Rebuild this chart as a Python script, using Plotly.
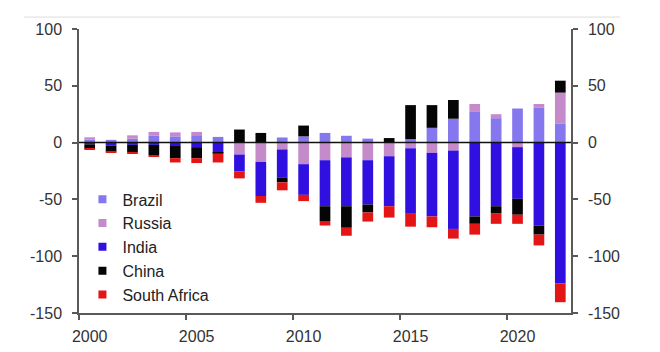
import plotly.graph_objects as go

years = list(range(2000, 2023))
brazil = [2.5, 2.4, 3.5, 6, 5.5, 6.5, 5, 0, 0, 4.5, 5.5, 8.5, 6, 3.5, 0, 3, 13, 21, 27, 21.5, 30, 31, 16.5]
russia = [2.2, 0, 2.9, 3.4, 3.5, 2.9, 0, -10.5, -17, -6, -19, -15.5, -13, -15.5, -12, -5, -9, -7, 7, 3.5, -4, 3, 27.5]
india = [-1.5, -2.5, -2, -2, -3, -4, -9, -15, -30, -25, -27, -40.5, -43, -39, -44, -57, -56, -69, -65, -56, -45.5, -73, -124]
china = [-4, -5.5, -6.5, -9, -10.7, -9.7, -0.5, 11.5, 8.5, -4, 9.5, -13, -19, -7, 4, 30, 20, 16.5, -6.5, -6.5, -14, -8, 10.5]
south_africa = [-0.3, -0.4, -0.8, -1, -3.8, -4.3, -8, -6, -6, -7, -5.5, -4, -7, -8, -10, -12, -9.5, -8.5, -9.5, -9, -8, -9.5, -16.5]

names = ["Brazil", "Russia", "India", "China", "South Africa"]
colors = ["#8577ee", "#c58ac9", "#3010e0", "#050505", "#e31515"]
values = [brazil, russia, india, china, south_africa]

y_ticks = [-150, -100, -50, 0, 50, 100]
y_ticktext = ["-150", "-100", "-50", "0", "50", "100"]
x_ticks = [2000, 2005, 2010, 2015, 2020]
x_minor = [1999.5, 2004.5, 2009.5, 2014.5, 2019.5]

FONT = "Liberation Sans, Arial, sans-serif"
AX = "#595959"

fig = go.Figure()
for n, v, c in zip(names, values, colors):
    fig.add_trace(go.Bar(x=years, y=v, name=n, marker=dict(color=c, line=dict(width=0)),
                         width=0.5, showlegend=False))
for n, c in zip(names, colors):
    fig.add_trace(go.Scatter(x=[None], y=[None], mode="markers", name=n,
                             marker=dict(symbol="square", size=8, color=c)))
fig.add_trace(go.Scatter(x=[None], y=[None], yaxis="y2", showlegend=False, hoverinfo="skip"))

axis_common = dict(range=[-150, 100], tickvals=y_ticks, ticktext=y_ticktext, ticks="outside", ticklen=5,
                   tickwidth=1.5, tickcolor=AX, showline=True, linecolor=AX, linewidth=1.5,
                   showgrid=False, zeroline=False, ticklabelstandoff=7,
                   tickfont=dict(family=FONT, size=16, color="#333333"))

fig.update_layout(
    width=660, height=352,
    margin=dict(l=79, r=89, t=29, b=39, autoexpand=False),
    paper_bgcolor="white", plot_bgcolor="white",
    barmode="relative",
    font=dict(family=FONT, size=16, color="#222222"),
    xaxis=dict(range=[1999.5, 2022.5], tickvals=x_ticks, ticks="", showline=True,
               linecolor=AX, linewidth=1.5, showgrid=False, zeroline=False,
               ticklabelstandoff=8,
               tickfont=dict(family=FONT, size=16, color="#333333"),
               minor=dict(tickvals=x_minor, ticks="outside", ticklen=5, tickwidth=1.5, tickcolor=AX)),
    yaxis=dict(side="left", **axis_common),
    yaxis2=dict(side="right", overlaying="y", **axis_common),
    legend=dict(x=0.007, y=0.46, xanchor="left", yanchor="top", bgcolor="rgba(0,0,0,0)",
                font=dict(family=FONT, size=16, color="#222222"), tracegroupgap=0),
    shapes=[
        dict(type="line", xref="paper", yref="y", x0=0, x1=1, y0=0, y1=0,
             line=dict(color="#111111", width=1.5), layer="above"),
        dict(type="line", xref="paper", yref="paper", x0=-0.112, x1=1.1, y0=1.042, y1=1.042,
             line=dict(color="#dddddd", width=1), layer="above"),
    ],
)

fig.write_html("out.html")
